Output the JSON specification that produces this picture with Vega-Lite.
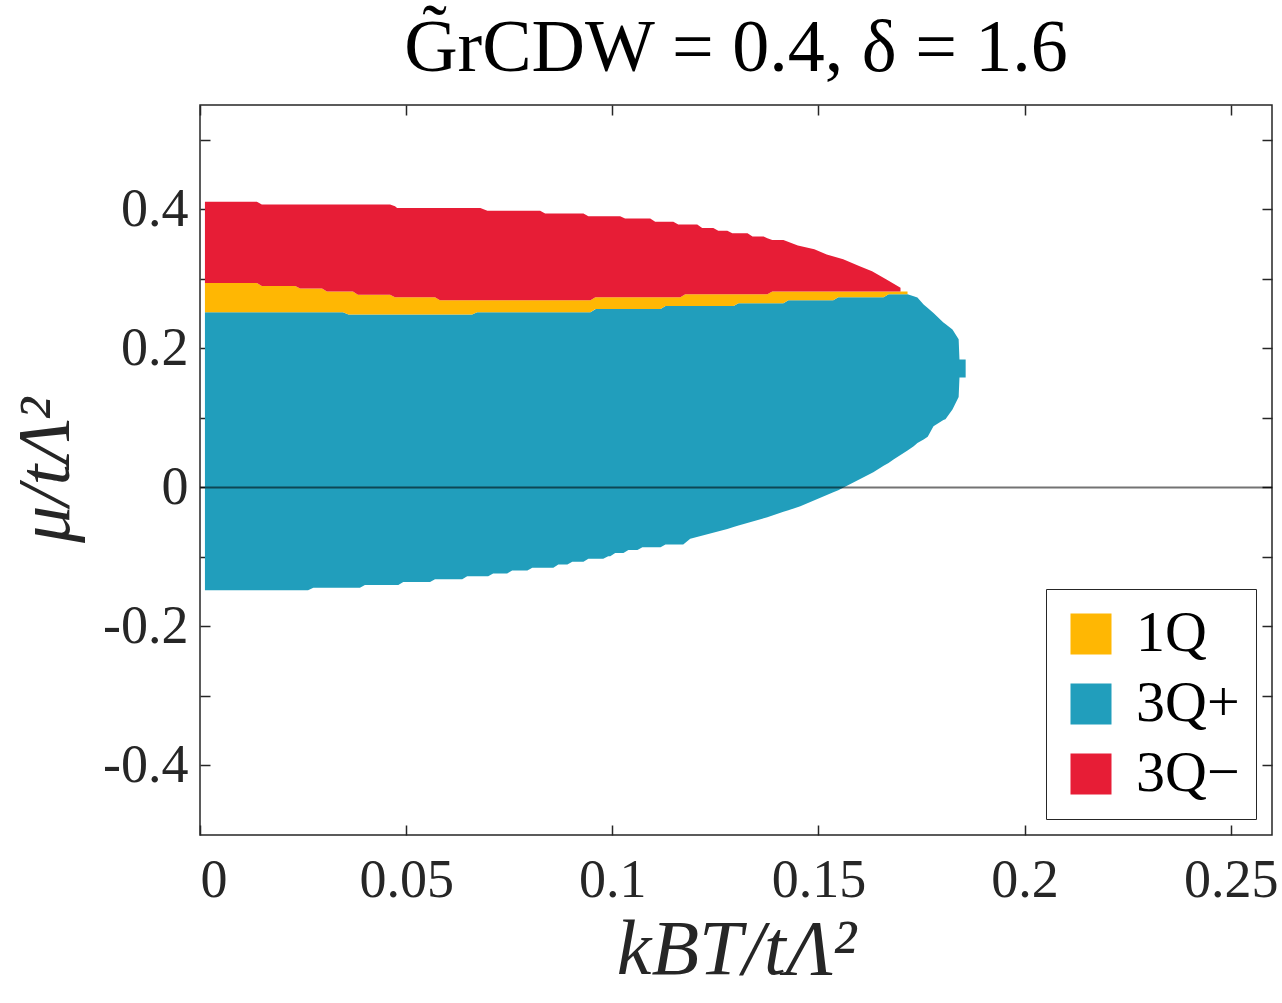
{
  "$schema": "https://vega.github.io/schema/vega-lite/v6.json",
  "autosize": {"type": "none"},
  "padding": {"left": 200, "top": 105, "right": 10, "bottom": 168},
  "width": 1072,
  "height": 730,
  "title": {
    "text": "G̃rCDW = 0.4, δ = 1.6",
    "font": "Liberation Serif",
    "fontSize": 74,
    "fontWeight": "normal",
    "color": "#000000",
    "anchor": "middle",
    "offset": 17
  },
  "datasets": {
    "phases": [
      {"p": "3Q+", "T": 0.0012, "lo": -0.148, "hi": 0.252},
      {"p": "3Q+", "T": 0.0262, "lo": -0.148, "hi": 0.252},
      {"p": "3Q+", "T": 0.0275, "lo": -0.1444, "hi": 0.252},
      {"p": "3Q+", "T": 0.0347, "lo": -0.1444, "hi": 0.252},
      {"p": "3Q+", "T": 0.036, "lo": -0.1444, "hi": 0.2485},
      {"p": "3Q+", "T": 0.0388, "lo": -0.1444, "hi": 0.2485},
      {"p": "3Q+", "T": 0.040, "lo": -0.1405, "hi": 0.2485},
      {"p": "3Q+", "T": 0.0481, "lo": -0.1405, "hi": 0.2485},
      {"p": "3Q+", "T": 0.0493, "lo": -0.136, "hi": 0.2485},
      {"p": "3Q+", "T": 0.0558, "lo": -0.136, "hi": 0.2485},
      {"p": "3Q+", "T": 0.057, "lo": -0.132, "hi": 0.2485},
      {"p": "3Q+", "T": 0.0636, "lo": -0.132, "hi": 0.2485},
      {"p": "3Q+", "T": 0.0648, "lo": -0.128, "hi": 0.2485},
      {"p": "3Q+", "T": 0.066, "lo": -0.128, "hi": 0.2485},
      {"p": "3Q+", "T": 0.0672, "lo": -0.128, "hi": 0.252},
      {"p": "3Q+", "T": 0.0699, "lo": -0.128, "hi": 0.252},
      {"p": "3Q+", "T": 0.0711, "lo": -0.124, "hi": 0.252},
      {"p": "3Q+", "T": 0.0745, "lo": -0.124, "hi": 0.252},
      {"p": "3Q+", "T": 0.0757, "lo": -0.1194, "hi": 0.252},
      {"p": "3Q+", "T": 0.0794, "lo": -0.1194, "hi": 0.252},
      {"p": "3Q+", "T": 0.0806, "lo": -0.1156, "hi": 0.252},
      {"p": "3Q+", "T": 0.0857, "lo": -0.1156, "hi": 0.252},
      {"p": "3Q+", "T": 0.0869, "lo": -0.111, "hi": 0.252},
      {"p": "3Q+", "T": 0.0891, "lo": -0.111, "hi": 0.252},
      {"p": "3Q+", "T": 0.0903, "lo": -0.107, "hi": 0.252},
      {"p": "3Q+", "T": 0.093, "lo": -0.107, "hi": 0.252},
      {"p": "3Q+", "T": 0.0942, "lo": -0.1026, "hi": 0.252},
      {"p": "3Q+", "T": 0.0947, "lo": -0.1026, "hi": 0.252},
      {"p": "3Q+", "T": 0.096, "lo": -0.1026, "hi": 0.2566},
      {"p": "3Q+", "T": 0.0978, "lo": -0.1026, "hi": 0.2566},
      {"p": "3Q+", "T": 0.099, "lo": -0.099, "hi": 0.2566},
      {"p": "3Q+", "T": 0.0995, "lo": -0.099, "hi": 0.2566},
      {"p": "3Q+", "T": 0.1007, "lo": -0.0945, "hi": 0.2566},
      {"p": "3Q+", "T": 0.1027, "lo": -0.0945, "hi": 0.2566},
      {"p": "3Q+", "T": 0.1039, "lo": -0.090, "hi": 0.2566},
      {"p": "3Q+", "T": 0.1061, "lo": -0.090, "hi": 0.2566},
      {"p": "3Q+", "T": 0.1073, "lo": -0.086, "hi": 0.2566},
      {"p": "3Q+", "T": 0.1117, "lo": -0.086, "hi": 0.2566},
      {"p": "3Q+", "T": 0.1129, "lo": -0.082, "hi": 0.261},
      {"p": "3Q+", "T": 0.1172, "lo": -0.082, "hi": 0.261},
      {"p": "3Q+", "T": 0.1189, "lo": -0.074, "hi": 0.261},
      {"p": "3Q+", "T": 0.1279, "lo": -0.06, "hi": 0.261},
      {"p": "3Q+", "T": 0.1294, "lo": -0.057, "hi": 0.261},
      {"p": "3Q+", "T": 0.1306, "lo": -0.055, "hi": 0.2647},
      {"p": "3Q+", "T": 0.1376, "lo": -0.043, "hi": 0.2647},
      {"p": "3Q+", "T": 0.1415, "lo": -0.035, "hi": 0.2647},
      {"p": "3Q+", "T": 0.1427, "lo": -0.033, "hi": 0.269},
      {"p": "3Q+", "T": 0.1456, "lo": -0.027, "hi": 0.269},
      {"p": "3Q+", "T": 0.1536, "lo": -0.007, "hi": 0.269},
      {"p": "3Q+", "T": 0.1548, "lo": -0.004, "hi": 0.2734},
      {"p": "3Q+", "T": 0.1561, "lo": 0.0, "hi": 0.2734},
      {"p": "3Q+", "T": 0.1633, "lo": 0.0216, "hi": 0.2734},
      {"p": "3Q+", "T": 0.1658, "lo": 0.031, "hi": 0.2734},
      {"p": "3Q+", "T": 0.167, "lo": 0.035, "hi": 0.2777},
      {"p": "3Q+", "T": 0.1682, "lo": 0.040, "hi": 0.2777},
      {"p": "3Q+", "T": 0.1716, "lo": 0.053, "hi": 0.2777},
      {"p": "3Q+", "T": 0.1731, "lo": 0.059, "hi": 0.275},
      {"p": "3Q+", "T": 0.174, "lo": 0.064, "hi": 0.273},
      {"p": "3Q+", "T": 0.1755, "lo": 0.069, "hi": 0.263},
      {"p": "3Q+", "T": 0.1765, "lo": 0.073, "hi": 0.258},
      {"p": "3Q+", "T": 0.1779, "lo": 0.088, "hi": 0.251},
      {"p": "3Q+", "T": 0.1803, "lo": 0.097, "hi": 0.237},
      {"p": "3Q+", "T": 0.1808, "lo": 0.098, "hi": 0.235},
      {"p": "3Q+", "T": 0.1825, "lo": 0.112, "hi": 0.227},
      {"p": "3Q+", "T": 0.184, "lo": 0.13, "hi": 0.213},
      {"p": "3Q+", "T": 0.1842, "lo": 0.158, "hi": 0.184},
      {"p": "3Q+", "T": 0.1857, "lo": 0.158, "hi": 0.184},

      {"p": "1Q", "T": 0.0012, "lo": 0.252, "hi": 0.294},
      {"p": "1Q", "T": 0.0138, "lo": 0.252, "hi": 0.294},
      {"p": "1Q", "T": 0.015, "lo": 0.252, "hi": 0.2897},
      {"p": "1Q", "T": 0.0231, "lo": 0.252, "hi": 0.2897},
      {"p": "1Q", "T": 0.0243, "lo": 0.252, "hi": 0.286},
      {"p": "1Q", "T": 0.0296, "lo": 0.252, "hi": 0.286},
      {"p": "1Q", "T": 0.0308, "lo": 0.252, "hi": 0.2816},
      {"p": "1Q", "T": 0.0347, "lo": 0.252, "hi": 0.2816},
      {"p": "1Q", "T": 0.036, "lo": 0.2485, "hi": 0.2816},
      {"p": "1Q", "T": 0.0371, "lo": 0.2485, "hi": 0.2816},
      {"p": "1Q", "T": 0.0383, "lo": 0.2485, "hi": 0.277},
      {"p": "1Q", "T": 0.0461, "lo": 0.2485, "hi": 0.277},
      {"p": "1Q", "T": 0.0473, "lo": 0.2485, "hi": 0.2734},
      {"p": "1Q", "T": 0.057, "lo": 0.2485, "hi": 0.2734},
      {"p": "1Q", "T": 0.0582, "lo": 0.2485, "hi": 0.269},
      {"p": "1Q", "T": 0.066, "lo": 0.2485, "hi": 0.269},
      {"p": "1Q", "T": 0.0672, "lo": 0.252, "hi": 0.269},
      {"p": "1Q", "T": 0.0947, "lo": 0.252, "hi": 0.269},
      {"p": "1Q", "T": 0.0959, "lo": 0.2566, "hi": 0.2734},
      {"p": "1Q", "T": 0.1117, "lo": 0.2566, "hi": 0.2734},
      {"p": "1Q", "T": 0.1129, "lo": 0.261, "hi": 0.2734},
      {"p": "1Q", "T": 0.1165, "lo": 0.261, "hi": 0.2734},
      {"p": "1Q", "T": 0.1177, "lo": 0.261, "hi": 0.2777},
      {"p": "1Q", "T": 0.1294, "lo": 0.261, "hi": 0.2777},
      {"p": "1Q", "T": 0.1306, "lo": 0.2647, "hi": 0.2777},
      {"p": "1Q", "T": 0.1376, "lo": 0.2647, "hi": 0.2777},
      {"p": "1Q", "T": 0.1388, "lo": 0.2647, "hi": 0.2816},
      {"p": "1Q", "T": 0.1415, "lo": 0.2647, "hi": 0.2816},
      {"p": "1Q", "T": 0.1427, "lo": 0.269, "hi": 0.2816},
      {"p": "1Q", "T": 0.1536, "lo": 0.269, "hi": 0.2816},
      {"p": "1Q", "T": 0.1548, "lo": 0.2734, "hi": 0.2816},
      {"p": "1Q", "T": 0.1658, "lo": 0.2734, "hi": 0.2816},
      {"p": "1Q", "T": 0.167, "lo": 0.2777, "hi": 0.2816},
      {"p": "1Q", "T": 0.1716, "lo": 0.2777, "hi": 0.2816},

      {"p": "3Q−", "T": 0.0012, "lo": 0.294, "hi": 0.411},
      {"p": "3Q−", "T": 0.0138, "lo": 0.294, "hi": 0.411},
      {"p": "3Q−", "T": 0.015, "lo": 0.2897, "hi": 0.407},
      {"p": "3Q−", "T": 0.0231, "lo": 0.2897, "hi": 0.407},
      {"p": "3Q−", "T": 0.0243, "lo": 0.286, "hi": 0.407},
      {"p": "3Q−", "T": 0.0296, "lo": 0.286, "hi": 0.407},
      {"p": "3Q−", "T": 0.0308, "lo": 0.2816, "hi": 0.407},
      {"p": "3Q−", "T": 0.0371, "lo": 0.2816, "hi": 0.407},
      {"p": "3Q−", "T": 0.0383, "lo": 0.277, "hi": 0.407},
      {"p": "3Q−", "T": 0.0461, "lo": 0.277, "hi": 0.407},
      {"p": "3Q−", "T": 0.0473, "lo": 0.2734, "hi": 0.4045},
      {"p": "3Q−", "T": 0.0478, "lo": 0.2734, "hi": 0.402},
      {"p": "3Q−", "T": 0.057, "lo": 0.2734, "hi": 0.402},
      {"p": "3Q−", "T": 0.0582, "lo": 0.269, "hi": 0.402},
      {"p": "3Q−", "T": 0.068, "lo": 0.269, "hi": 0.402},
      {"p": "3Q−", "T": 0.0697, "lo": 0.269, "hi": 0.398},
      {"p": "3Q−", "T": 0.0825, "lo": 0.269, "hi": 0.398},
      {"p": "3Q−", "T": 0.0837, "lo": 0.269, "hi": 0.394},
      {"p": "3Q−", "T": 0.093, "lo": 0.269, "hi": 0.394},
      {"p": "3Q−", "T": 0.0942, "lo": 0.269, "hi": 0.39},
      {"p": "3Q−", "T": 0.0947, "lo": 0.269, "hi": 0.39},
      {"p": "3Q−", "T": 0.0959, "lo": 0.2734, "hi": 0.39},
      {"p": "3Q−", "T": 0.1019, "lo": 0.2734, "hi": 0.39},
      {"p": "3Q−", "T": 0.1031, "lo": 0.2734, "hi": 0.3866},
      {"p": "3Q−", "T": 0.1092, "lo": 0.2734, "hi": 0.3866},
      {"p": "3Q−", "T": 0.1104, "lo": 0.2734, "hi": 0.382},
      {"p": "3Q−", "T": 0.1148, "lo": 0.2734, "hi": 0.382},
      {"p": "3Q−", "T": 0.116, "lo": 0.2734, "hi": 0.378},
      {"p": "3Q−", "T": 0.1165, "lo": 0.2734, "hi": 0.378},
      {"p": "3Q−", "T": 0.1177, "lo": 0.2777, "hi": 0.378},
      {"p": "3Q−", "T": 0.1206, "lo": 0.2777, "hi": 0.378},
      {"p": "3Q−", "T": 0.1218, "lo": 0.2777, "hi": 0.373},
      {"p": "3Q−", "T": 0.1245, "lo": 0.2777, "hi": 0.373},
      {"p": "3Q−", "T": 0.1257, "lo": 0.2777, "hi": 0.369},
      {"p": "3Q−", "T": 0.1279, "lo": 0.2777, "hi": 0.369},
      {"p": "3Q−", "T": 0.1291, "lo": 0.2777, "hi": 0.3655},
      {"p": "3Q−", "T": 0.1328, "lo": 0.2777, "hi": 0.3655},
      {"p": "3Q−", "T": 0.134, "lo": 0.2777, "hi": 0.3607},
      {"p": "3Q−", "T": 0.1367, "lo": 0.2777, "hi": 0.3607},
      {"p": "3Q−", "T": 0.1376, "lo": 0.2777, "hi": 0.3585},
      {"p": "3Q−", "T": 0.1388, "lo": 0.2816, "hi": 0.356},
      {"p": "3Q−", "T": 0.1415, "lo": 0.2816, "hi": 0.356},
      {"p": "3Q−", "T": 0.145, "lo": 0.2816, "hi": 0.348},
      {"p": "3Q−", "T": 0.149, "lo": 0.2816, "hi": 0.3424},
      {"p": "3Q−", "T": 0.152, "lo": 0.2816, "hi": 0.335},
      {"p": "3Q−", "T": 0.156, "lo": 0.2816, "hi": 0.328},
      {"p": "3Q−", "T": 0.16, "lo": 0.2816, "hi": 0.318},
      {"p": "3Q−", "T": 0.163, "lo": 0.2816, "hi": 0.311},
      {"p": "3Q−", "T": 0.1665, "lo": 0.2816, "hi": 0.299},
      {"p": "3Q−", "T": 0.1699, "lo": 0.2816, "hi": 0.287}
    ]
  },
  "layer": [
    {
      "data": {"name": "phases"},
      "mark": {"type": "area", "interpolate": "linear", "opacity": 1},
      "encoding": {
        "x": {
          "field": "T",
          "type": "quantitative",
          "scale": {"domain": [0, 0.26], "nice": false, "zero": false},
          "axis": {
            "orient": "bottom",
            "title": "kBT/tΛ²",
            "values": [0, 0.05, 0.1, 0.15, 0.2, 0.25],
            "labelExpr": "format(datum.value, '~g')",
            "labelPadding": 28,
            "titlePadding": 4
          }
        },
        "y": {
          "field": "lo",
          "type": "quantitative",
          "scale": {"domain": [-0.5, 0.55], "nice": false, "zero": false},
          "axis": {
            "orient": "left",
            "title": "μ/tΛ²",
            "values": [-0.4, -0.3, -0.2, -0.1, 0, 0.1, 0.2, 0.3, 0.4, 0.5],
            "labelExpr": "datum.value == 0 ? '0' : (abs(round(datum.value * 10)) % 2 == 0 ? (datum.value < 0 ? '-' : '') + format(abs(datum.value), '.1f') : '')",
            "labelPadding": 22,
            "titlePadding": 18,
            "titleFontSize": 74
          }
        },
        "y2": {"field": "hi"},
        "color": {
          "field": "p",
          "type": "nominal",
          "scale": {"domain": ["1Q", "3Q+", "3Q−"], "range": ["#FFB703", "#219EBC", "#E71D36"]},
          "legend": {
            "title": null,
            "orient": "bottom-right",
            "offset": 16,
            "padding": 16,
            "strokeColor": "#262626",
            "fillColor": "#ffffff",
            "symbolType": "square",
            "symbolSize": 1681,
            "symbolStrokeWidth": 0,
            "symbolOpacity": 1,
            "labelFont": "Liberation Serif",
            "labelFontSize": 58,
            "labelColor": "#000000",
            "labelOffset": 16,
            "rowPadding": 12
          }
        }
      }
    },
    {
      "data": {"values": [{"mu": 0}]},
      "mark": {"type": "rule", "color": "#000000", "opacity": 0.55, "strokeWidth": 2},
      "encoding": {
        "y": {"field": "mu", "type": "quantitative", "axis": null}
      }
    },
    {
      "data": {"values": [{"T": 0, "mu": 0}]},
      "mark": {"type": "point", "opacity": 0},
      "encoding": {
        "x": {
          "field": "T",
          "type": "quantitative",
          "axis": {"orient": "top", "title": null, "labels": false, "values": [0, 0.05, 0.1, 0.15, 0.2, 0.25]}
        },
        "y": {
          "field": "mu",
          "type": "quantitative",
          "axis": {"orient": "right", "title": null, "labels": false, "values": [-0.4, -0.3, -0.2, -0.1, 0, 0.1, 0.2, 0.3, 0.4, 0.5]}
        }
      }
    }
  ],
  "resolve": {"axis": {"x": "independent", "y": "independent"}},
  "config": {
    "view": {"stroke": "#262626", "strokeWidth": 1.5},
    "axis": {
      "domain": false,
      "grid": false,
      "tickColor": "#262626",
      "tickSize": -10,
      "tickWidth": 1.5,
      "labelFont": "Liberation Serif",
      "labelFontSize": 54,
      "labelColor": "#262626",
      "titleFont": "Liberation Serif",
      "titleFontSize": 78,
      "titleFontStyle": "italic",
      "titleFontWeight": "normal",
      "titleColor": "#262626"
    }
  }
}
